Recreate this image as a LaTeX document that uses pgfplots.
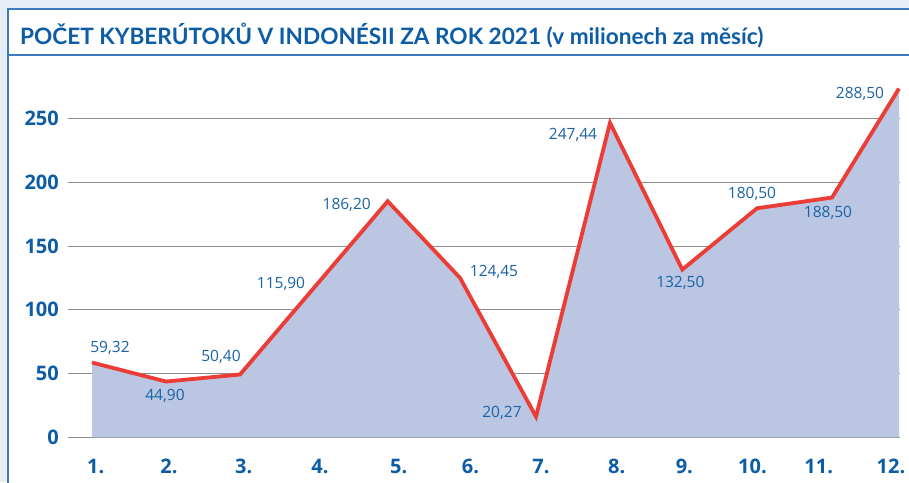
\documentclass[border=0pt]{standalone}
\usepackage{pgfplots}
\pgfplotsset{compat=1.18}
\usepackage{fontspec}
\setmainfont{Open Sans}
\newfontfamily\titlefont{Lato}
\definecolor{bgc}{HTML}{E6EDF5}
\definecolor{panelblue}{HTML}{3A7BBD}
\definecolor{titleblue}{HTML}{0D5CA6}
\definecolor{labblue}{HTML}{1A63A6}
\definecolor{areac}{HTML}{BAC6E2}
\definecolor{linered}{HTML}{EB3D35}
\definecolor{gridc}{HTML}{8E8E8E}
\begin{document}
\begin{tikzpicture}[x=1pt,y=1pt]
\useasboundingbox (0,0) rectangle (909,482);
\clip (0,0) rectangle (909,482);
\fill[bgc] (0,0) rectangle (909,482);
\fill[white] (8,-5) rectangle (915,472.7);
\draw[panelblue, line width=1.8pt] (8,-5) -- (8,472.7) -- (915,472.7);
\draw[panelblue, line width=1.4pt] (8,427) -- (915,427);
\node[anchor=base west, inner sep=0pt, text=titleblue, font=\titlefont\bfseries\fontsize{22.6}{27}\selectfont] at (20,437) {POČET KYBERÚTOKŮ V INDONÉSII ZA ROK 2021 (v milionech za měsíc)};
\begin{axis}[
  at={(68,35.1)}, anchor=south west,
  scale only axis, width=832pt, height=382.5pt,
  xmin=68, xmax=900, ymin=0, ymax=300,
  axis line style={draw=none},
  major tick length=0pt,
  ytick={0,50,100,150,200,250},
  ymajorgrids, grid style={gridc, line width=0.9pt},
  xtick={95.7,169,243.7,320,398.7,470.5,541,616.7,684.3,752.5,818.7,891},
  xticklabels={1.,2.,3.,4.,5.,6.,7.,8.,9.,10.,11.,12.},
  /pgf/number format/assume math mode=true,
  yticklabel style={anchor=east, inner sep=0pt, xshift=-9pt, text=titleblue, font=\bfseries\fontsize{20}{24}\selectfont},
  xticklabel style={anchor=center, inner sep=0pt, yshift=-28.8pt, text=titleblue, font=\bfseries\fontsize{20}{24}\selectfont},
  clip=false,
]
\addplot[fill=areac, draw=none] table[x=x, y=y] {
x y
92 58.6
166 43.7
240 49.2
313 116.3
387.7 185.1
460 125.0
536 16.2
610 246.6
682.3 131.5
757 179.6
832 188.0
899 273.5
} \closedcycle;
\addplot[linered, line width=3.8pt, line join=miter, miter limit=10,
  nodes near coords, point meta=explicit symbolic,
  visualization depends on={\thisrow{dx}\as\dx},
  visualization depends on={\thisrow{dy}\as\dy},
  every node near coord/.append style={anchor=base, inner sep=0pt, text=labblue, font=\fontsize{15.5}{18}\selectfont, xshift=\dx pt, yshift=\dy pt},
] table[x=x, y=y, meta=lab] {
x y lab dx dy
92 58.6 59,32 18 9.6
166 43.7 44,90 -1 -19.4
240 49.2 50,40 -19 12.6
313 116.3 115,90 -32 0
387.7 185.1 186,20 -41 -8.7
460 125.0 124,45 34 1.2
536 16.2 20,27 -34 -1.4
610 246.6 247,44 -37 -16.4
682.3 131.5 132,50 -2 -17.7
757 179.6 180,50 -5 9.3
832 188.0 188,50 -4 -20.4
899 273.5 288,50 -39 -10.4
};
\end{axis}
\end{tikzpicture}
\end{document}
